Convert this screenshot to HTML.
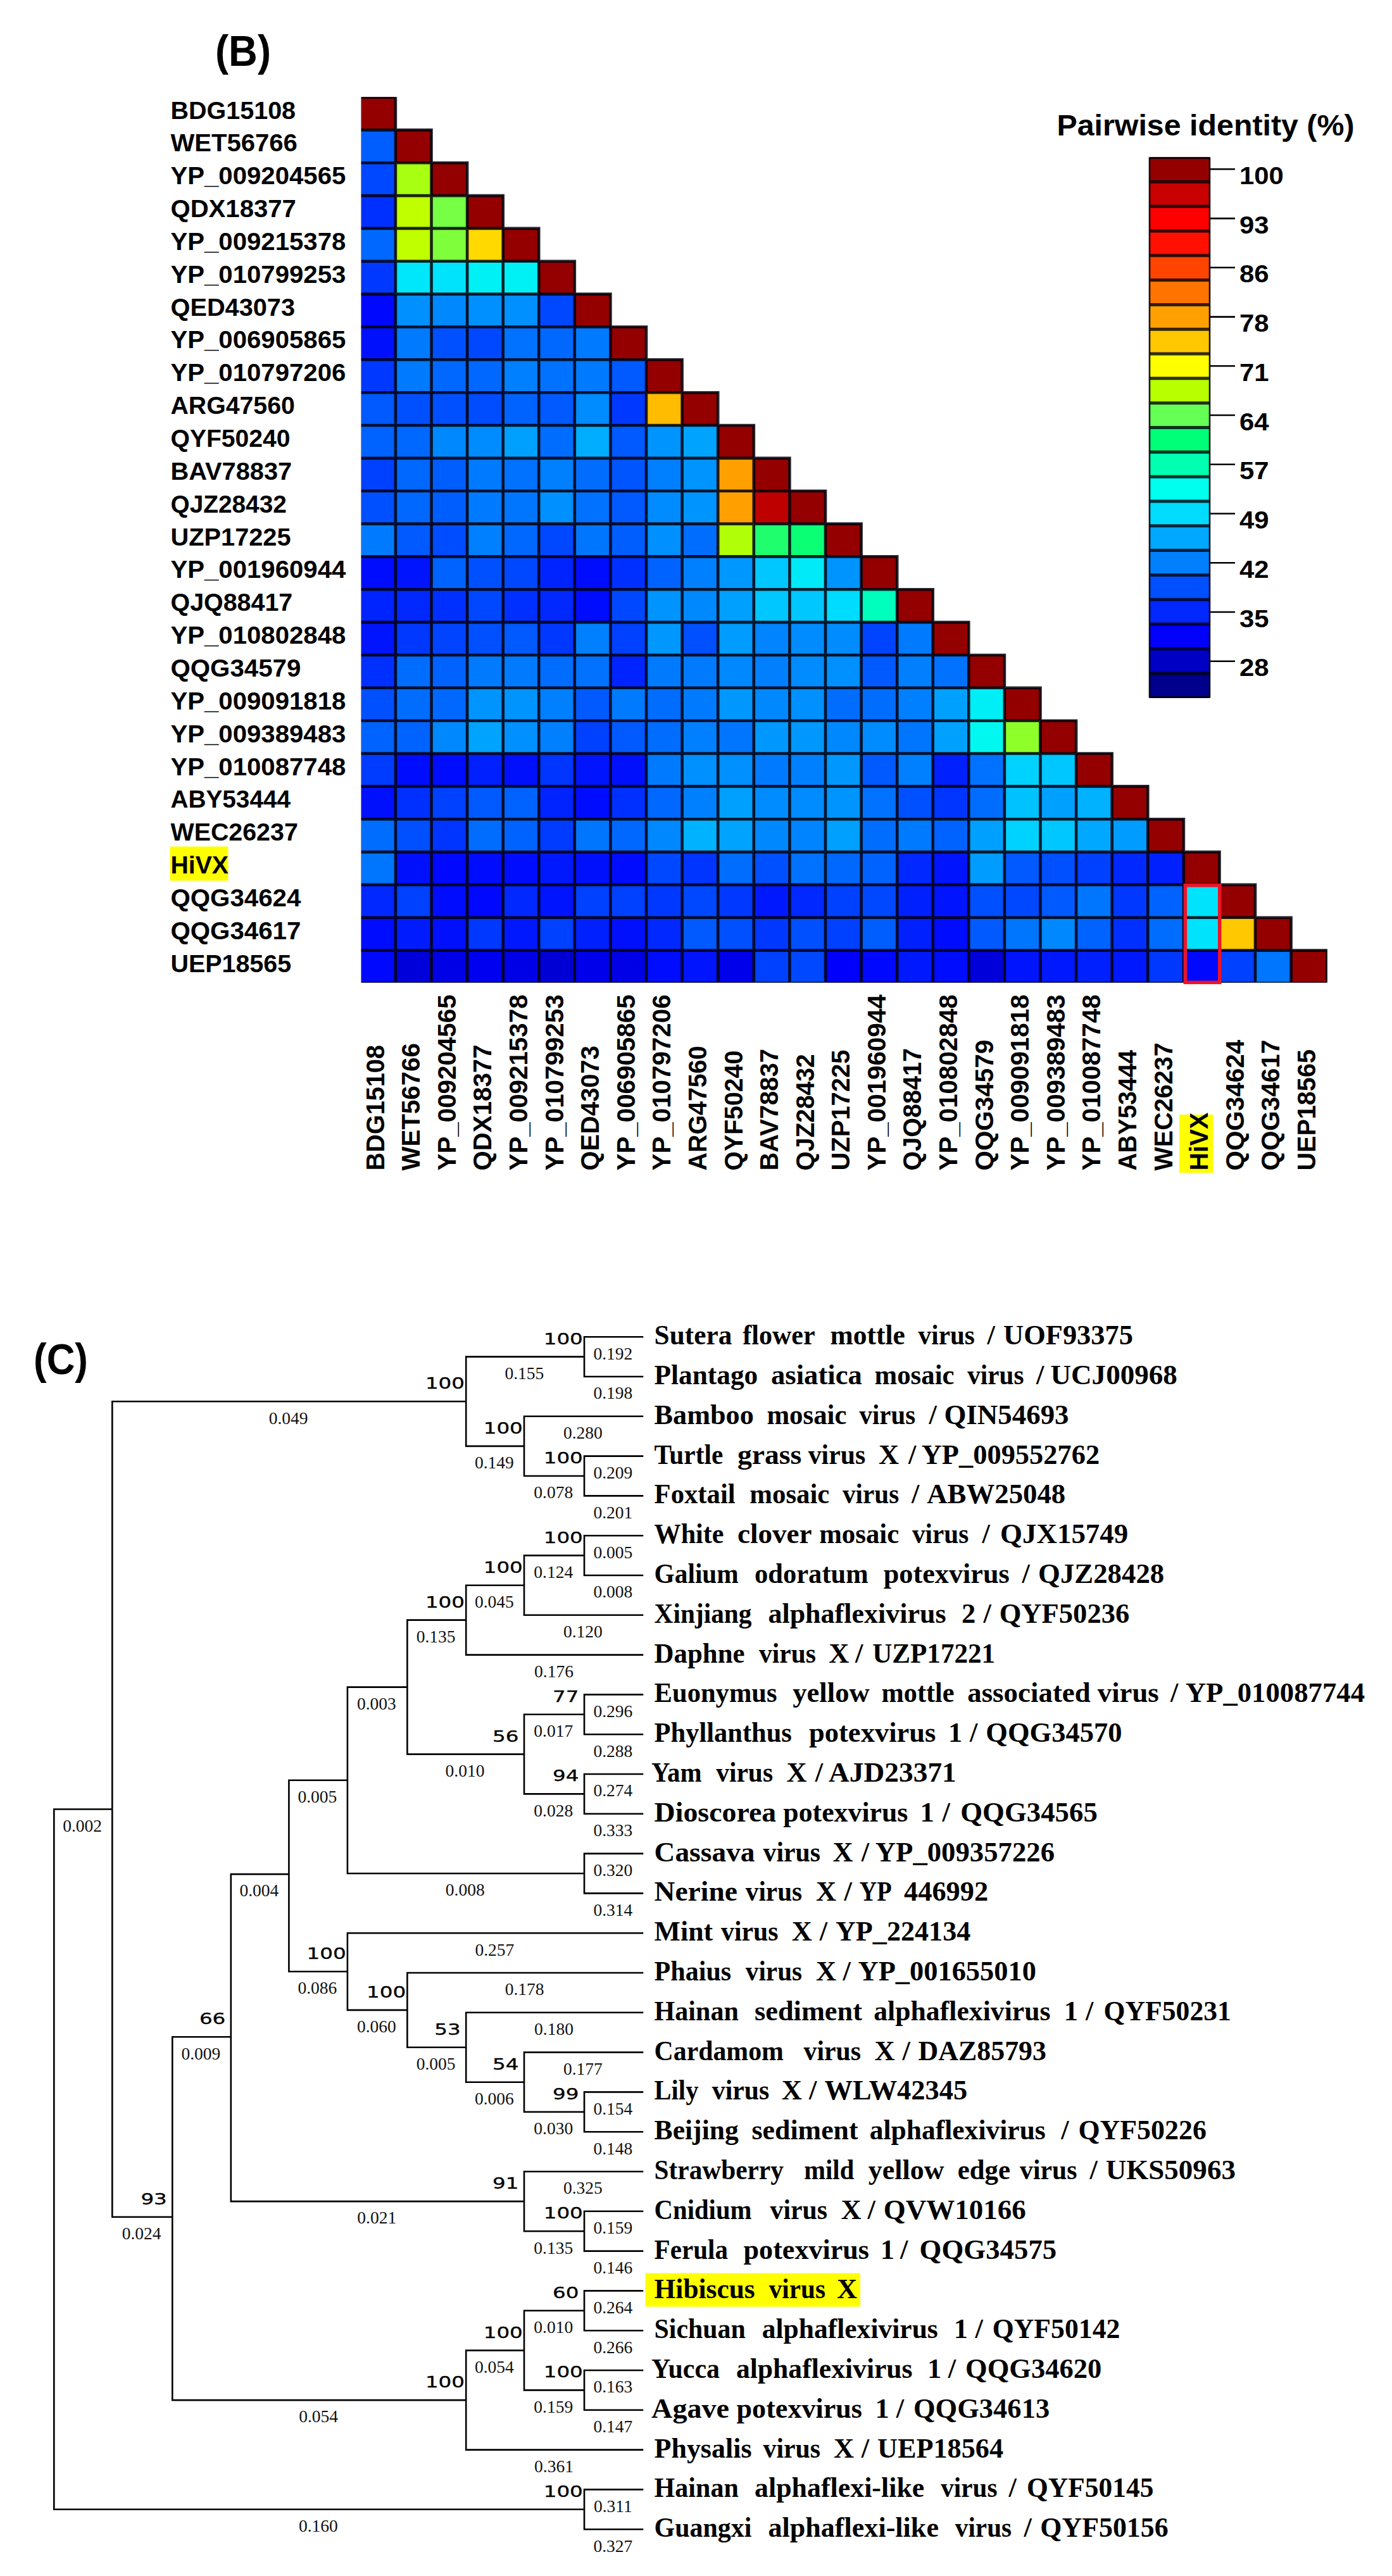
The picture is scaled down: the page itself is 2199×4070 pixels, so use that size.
<!DOCTYPE html>
<html lang="en"><head><meta charset="utf-8"><title>Figure</title>
<style>html,body{margin:0;padding:0;background:#fff}svg{display:block}.s{font-family:"Liberation Sans",sans-serif;font-weight:bold;fill:#000}.t{font-family:"Liberation Serif",serif;font-weight:bold;fill:#000;font-size:44.5px}.b{font-family:"Liberation Serif",serif;fill:#111;font-size:27.5px;text-anchor:middle}.n{font-family:"DejaVu Sans","Liberation Sans",sans-serif;fill:#000;stroke:#000;stroke-width:.35px;font-size:25.5px;text-anchor:end}</style></head><body>
<svg width="2199" height="4070" viewBox="0 0 2199 4070">
<rect width="2199" height="4070" fill="#fff"/>
<clipPath id="gc"><rect x="570.6" y="153.2" width="1526.4" height="1399.3"/></clipPath>
<g clip-path="url(#gc)">
<g shape-rendering="crispEdges">
<rect x="568.0" y="153.2" width="57.19" height="52.45" fill="#940000"/>
<rect x="568.0" y="205.1" width="57.19" height="52.45" fill="#005eff"/>
<rect x="624.6" y="205.1" width="57.19" height="52.45" fill="#940000"/>
<rect x="568.0" y="256.9" width="57.19" height="52.45" fill="#0048ff"/>
<rect x="624.6" y="256.9" width="57.19" height="52.45" fill="#a8ff11"/>
<rect x="681.2" y="256.9" width="57.19" height="52.45" fill="#940000"/>
<rect x="568.0" y="308.8" width="57.19" height="52.45" fill="#0030ff"/>
<rect x="624.6" y="308.8" width="57.19" height="52.45" fill="#bfff00"/>
<rect x="681.2" y="308.8" width="57.19" height="52.45" fill="#76ff44"/>
<rect x="737.8" y="308.8" width="57.19" height="52.45" fill="#940000"/>
<rect x="568.0" y="360.6" width="57.19" height="52.45" fill="#0068ff"/>
<rect x="624.6" y="360.6" width="57.19" height="52.45" fill="#bfff00"/>
<rect x="681.2" y="360.6" width="57.19" height="52.45" fill="#7fff3b"/>
<rect x="737.8" y="360.6" width="57.19" height="52.45" fill="#ffd900"/>
<rect x="794.4" y="360.6" width="57.19" height="52.45" fill="#940000"/>
<rect x="568.0" y="412.5" width="57.19" height="52.45" fill="#0038ff"/>
<rect x="624.6" y="412.5" width="57.19" height="52.45" fill="#00e6fa"/>
<rect x="681.2" y="412.5" width="57.19" height="52.45" fill="#00e3fc"/>
<rect x="737.8" y="412.5" width="57.19" height="52.45" fill="#00f1f5"/>
<rect x="794.4" y="412.5" width="57.19" height="52.45" fill="#00f1f5"/>
<rect x="851.0" y="412.5" width="57.19" height="52.45" fill="#940000"/>
<rect x="568.0" y="464.3" width="57.19" height="52.45" fill="#0008fd"/>
<rect x="624.6" y="464.3" width="57.19" height="52.45" fill="#0090ff"/>
<rect x="681.2" y="464.3" width="57.19" height="52.45" fill="#0088ff"/>
<rect x="737.8" y="464.3" width="57.19" height="52.45" fill="#0090ff"/>
<rect x="794.4" y="464.3" width="57.19" height="52.45" fill="#0090ff"/>
<rect x="851.0" y="464.3" width="57.19" height="52.45" fill="#0048ff"/>
<rect x="907.5" y="464.3" width="57.19" height="52.45" fill="#940000"/>
<rect x="568.0" y="516.2" width="57.19" height="52.45" fill="#0010fd"/>
<rect x="624.6" y="516.2" width="57.19" height="52.45" fill="#007bff"/>
<rect x="681.2" y="516.2" width="57.19" height="52.45" fill="#0050ff"/>
<rect x="737.8" y="516.2" width="57.19" height="52.45" fill="#0048ff"/>
<rect x="794.4" y="516.2" width="57.19" height="52.45" fill="#0072ff"/>
<rect x="851.0" y="516.2" width="57.19" height="52.45" fill="#0068ff"/>
<rect x="907.5" y="516.2" width="57.19" height="52.45" fill="#007bff"/>
<rect x="964.1" y="516.2" width="57.19" height="52.45" fill="#940000"/>
<rect x="568.0" y="568.0" width="57.19" height="52.45" fill="#0038ff"/>
<rect x="624.6" y="568.0" width="57.19" height="52.45" fill="#007bff"/>
<rect x="681.2" y="568.0" width="57.19" height="52.45" fill="#0068ff"/>
<rect x="737.8" y="568.0" width="57.19" height="52.45" fill="#0068ff"/>
<rect x="794.4" y="568.0" width="57.19" height="52.45" fill="#0080ff"/>
<rect x="851.0" y="568.0" width="57.19" height="52.45" fill="#0072ff"/>
<rect x="907.5" y="568.0" width="57.19" height="52.45" fill="#007bff"/>
<rect x="964.1" y="568.0" width="57.19" height="52.45" fill="#005aff"/>
<rect x="1020.7" y="568.0" width="57.19" height="52.45" fill="#940000"/>
<rect x="568.0" y="619.9" width="57.19" height="52.45" fill="#005aff"/>
<rect x="624.6" y="619.9" width="57.19" height="52.45" fill="#0050ff"/>
<rect x="681.2" y="619.9" width="57.19" height="52.45" fill="#0050ff"/>
<rect x="737.8" y="619.9" width="57.19" height="52.45" fill="#004cff"/>
<rect x="794.4" y="619.9" width="57.19" height="52.45" fill="#0063ff"/>
<rect x="851.0" y="619.9" width="57.19" height="52.45" fill="#005aff"/>
<rect x="907.5" y="619.9" width="57.19" height="52.45" fill="#008cff"/>
<rect x="964.1" y="619.9" width="57.19" height="52.45" fill="#0038ff"/>
<rect x="1020.7" y="619.9" width="57.19" height="52.45" fill="#ffbc00"/>
<rect x="1077.3" y="619.9" width="57.19" height="52.45" fill="#940000"/>
<rect x="568.0" y="671.7" width="57.19" height="52.45" fill="#0063ff"/>
<rect x="624.6" y="671.7" width="57.19" height="52.45" fill="#0068ff"/>
<rect x="681.2" y="671.7" width="57.19" height="52.45" fill="#0088ff"/>
<rect x="737.8" y="671.7" width="57.19" height="52.45" fill="#008cff"/>
<rect x="794.4" y="671.7" width="57.19" height="52.45" fill="#00a0ff"/>
<rect x="851.0" y="671.7" width="57.19" height="52.45" fill="#006dff"/>
<rect x="907.5" y="671.7" width="57.19" height="52.45" fill="#00adff"/>
<rect x="964.1" y="671.7" width="57.19" height="52.45" fill="#005aff"/>
<rect x="1020.7" y="671.7" width="57.19" height="52.45" fill="#0094ff"/>
<rect x="1077.3" y="671.7" width="57.19" height="52.45" fill="#00a4ff"/>
<rect x="1133.9" y="671.7" width="57.19" height="52.45" fill="#940000"/>
<rect x="568.0" y="723.6" width="57.19" height="52.45" fill="#0040ff"/>
<rect x="624.6" y="723.6" width="57.19" height="52.45" fill="#0068ff"/>
<rect x="681.2" y="723.6" width="57.19" height="52.45" fill="#005eff"/>
<rect x="737.8" y="723.6" width="57.19" height="52.45" fill="#007bff"/>
<rect x="794.4" y="723.6" width="57.19" height="52.45" fill="#0072ff"/>
<rect x="851.0" y="723.6" width="57.19" height="52.45" fill="#0080ff"/>
<rect x="907.5" y="723.6" width="57.19" height="52.45" fill="#006dff"/>
<rect x="964.1" y="723.6" width="57.19" height="52.45" fill="#0055ff"/>
<rect x="1020.7" y="723.6" width="57.19" height="52.45" fill="#0080ff"/>
<rect x="1077.3" y="723.6" width="57.19" height="52.45" fill="#0094ff"/>
<rect x="1133.9" y="723.6" width="57.19" height="52.45" fill="#ffa000"/>
<rect x="1190.5" y="723.6" width="57.19" height="52.45" fill="#940000"/>
<rect x="568.0" y="775.4" width="57.19" height="52.45" fill="#0050ff"/>
<rect x="624.6" y="775.4" width="57.19" height="52.45" fill="#0068ff"/>
<rect x="681.2" y="775.4" width="57.19" height="52.45" fill="#005eff"/>
<rect x="737.8" y="775.4" width="57.19" height="52.45" fill="#007bff"/>
<rect x="794.4" y="775.4" width="57.19" height="52.45" fill="#0076ff"/>
<rect x="851.0" y="775.4" width="57.19" height="52.45" fill="#0090ff"/>
<rect x="907.5" y="775.4" width="57.19" height="52.45" fill="#0072ff"/>
<rect x="964.1" y="775.4" width="57.19" height="52.45" fill="#005aff"/>
<rect x="1020.7" y="775.4" width="57.19" height="52.45" fill="#008cff"/>
<rect x="1077.3" y="775.4" width="57.19" height="52.45" fill="#0094ff"/>
<rect x="1133.9" y="775.4" width="57.19" height="52.45" fill="#ffa000"/>
<rect x="1190.5" y="775.4" width="57.19" height="52.45" fill="#be0000"/>
<rect x="1247.1" y="775.4" width="57.19" height="52.45" fill="#940000"/>
<rect x="568.0" y="827.3" width="57.19" height="52.45" fill="#007bff"/>
<rect x="624.6" y="827.3" width="57.19" height="52.45" fill="#005aff"/>
<rect x="681.2" y="827.3" width="57.19" height="52.45" fill="#004cff"/>
<rect x="737.8" y="827.3" width="57.19" height="52.45" fill="#0080ff"/>
<rect x="794.4" y="827.3" width="57.19" height="52.45" fill="#0068ff"/>
<rect x="851.0" y="827.3" width="57.19" height="52.45" fill="#0048ff"/>
<rect x="907.5" y="827.3" width="57.19" height="52.45" fill="#0076ff"/>
<rect x="964.1" y="827.3" width="57.19" height="52.45" fill="#005eff"/>
<rect x="1020.7" y="827.3" width="57.19" height="52.45" fill="#0090ff"/>
<rect x="1077.3" y="827.3" width="57.19" height="52.45" fill="#006dff"/>
<rect x="1133.9" y="827.3" width="57.19" height="52.45" fill="#b0ff08"/>
<rect x="1190.5" y="827.3" width="57.19" height="52.45" fill="#1fff6d"/>
<rect x="1247.1" y="827.3" width="57.19" height="52.45" fill="#0aff75"/>
<rect x="1303.7" y="827.3" width="57.19" height="52.45" fill="#940000"/>
<rect x="568.0" y="879.1" width="57.19" height="52.45" fill="#000cfd"/>
<rect x="624.6" y="879.1" width="57.19" height="52.45" fill="#0014fe"/>
<rect x="681.2" y="879.1" width="57.19" height="52.45" fill="#0063ff"/>
<rect x="737.8" y="879.1" width="57.19" height="52.45" fill="#0050ff"/>
<rect x="794.4" y="879.1" width="57.19" height="52.45" fill="#0048ff"/>
<rect x="851.0" y="879.1" width="57.19" height="52.45" fill="#0024ff"/>
<rect x="907.5" y="879.1" width="57.19" height="52.45" fill="#000cfd"/>
<rect x="964.1" y="879.1" width="57.19" height="52.45" fill="#0030ff"/>
<rect x="1020.7" y="879.1" width="57.19" height="52.45" fill="#0063ff"/>
<rect x="1077.3" y="879.1" width="57.19" height="52.45" fill="#0080ff"/>
<rect x="1133.9" y="879.1" width="57.19" height="52.45" fill="#0098ff"/>
<rect x="1190.5" y="879.1" width="57.19" height="52.45" fill="#00c7ff"/>
<rect x="1247.1" y="879.1" width="57.19" height="52.45" fill="#00eaf8"/>
<rect x="1303.7" y="879.1" width="57.19" height="52.45" fill="#0094ff"/>
<rect x="1360.3" y="879.1" width="57.19" height="52.45" fill="#940000"/>
<rect x="568.0" y="931.0" width="57.19" height="52.45" fill="#0024ff"/>
<rect x="624.6" y="931.0" width="57.19" height="52.45" fill="#0028ff"/>
<rect x="681.2" y="931.0" width="57.19" height="52.45" fill="#0030ff"/>
<rect x="737.8" y="931.0" width="57.19" height="52.45" fill="#0048ff"/>
<rect x="794.4" y="931.0" width="57.19" height="52.45" fill="#0030ff"/>
<rect x="851.0" y="931.0" width="57.19" height="52.45" fill="#0028ff"/>
<rect x="907.5" y="931.0" width="57.19" height="52.45" fill="#000cfd"/>
<rect x="964.1" y="931.0" width="57.19" height="52.45" fill="#0048ff"/>
<rect x="1020.7" y="931.0" width="57.19" height="52.45" fill="#0094ff"/>
<rect x="1077.3" y="931.0" width="57.19" height="52.45" fill="#0088ff"/>
<rect x="1133.9" y="931.0" width="57.19" height="52.45" fill="#00a0ff"/>
<rect x="1190.5" y="931.0" width="57.19" height="52.45" fill="#00c7ff"/>
<rect x="1247.1" y="931.0" width="57.19" height="52.45" fill="#00c7ff"/>
<rect x="1303.7" y="931.0" width="57.19" height="52.45" fill="#00dcff"/>
<rect x="1360.3" y="931.0" width="57.19" height="52.45" fill="#00ffbc"/>
<rect x="1416.9" y="931.0" width="57.19" height="52.45" fill="#940000"/>
<rect x="568.0" y="982.8" width="57.19" height="52.45" fill="#0014fe"/>
<rect x="624.6" y="982.8" width="57.19" height="52.45" fill="#0038ff"/>
<rect x="681.2" y="982.8" width="57.19" height="52.45" fill="#0044ff"/>
<rect x="737.8" y="982.8" width="57.19" height="52.45" fill="#0050ff"/>
<rect x="794.4" y="982.8" width="57.19" height="52.45" fill="#005aff"/>
<rect x="851.0" y="982.8" width="57.19" height="52.45" fill="#0038ff"/>
<rect x="907.5" y="982.8" width="57.19" height="52.45" fill="#0080ff"/>
<rect x="964.1" y="982.8" width="57.19" height="52.45" fill="#0040ff"/>
<rect x="1020.7" y="982.8" width="57.19" height="52.45" fill="#0098ff"/>
<rect x="1077.3" y="982.8" width="57.19" height="52.45" fill="#0050ff"/>
<rect x="1133.9" y="982.8" width="57.19" height="52.45" fill="#009cff"/>
<rect x="1190.5" y="982.8" width="57.19" height="52.45" fill="#0084ff"/>
<rect x="1247.1" y="982.8" width="57.19" height="52.45" fill="#008cff"/>
<rect x="1303.7" y="982.8" width="57.19" height="52.45" fill="#008cff"/>
<rect x="1360.3" y="982.8" width="57.19" height="52.45" fill="#0044ff"/>
<rect x="1416.9" y="982.8" width="57.19" height="52.45" fill="#007bff"/>
<rect x="1473.4" y="982.8" width="57.19" height="52.45" fill="#940000"/>
<rect x="568.0" y="1034.7" width="57.19" height="52.45" fill="#0030ff"/>
<rect x="624.6" y="1034.7" width="57.19" height="52.45" fill="#006dff"/>
<rect x="681.2" y="1034.7" width="57.19" height="52.45" fill="#0063ff"/>
<rect x="737.8" y="1034.7" width="57.19" height="52.45" fill="#007bff"/>
<rect x="794.4" y="1034.7" width="57.19" height="52.45" fill="#007bff"/>
<rect x="851.0" y="1034.7" width="57.19" height="52.45" fill="#006dff"/>
<rect x="907.5" y="1034.7" width="57.19" height="52.45" fill="#0072ff"/>
<rect x="964.1" y="1034.7" width="57.19" height="52.45" fill="#0024ff"/>
<rect x="1020.7" y="1034.7" width="57.19" height="52.45" fill="#007bff"/>
<rect x="1077.3" y="1034.7" width="57.19" height="52.45" fill="#007bff"/>
<rect x="1133.9" y="1034.7" width="57.19" height="52.45" fill="#0088ff"/>
<rect x="1190.5" y="1034.7" width="57.19" height="52.45" fill="#0080ff"/>
<rect x="1247.1" y="1034.7" width="57.19" height="52.45" fill="#008cff"/>
<rect x="1303.7" y="1034.7" width="57.19" height="52.45" fill="#0090ff"/>
<rect x="1360.3" y="1034.7" width="57.19" height="52.45" fill="#005aff"/>
<rect x="1416.9" y="1034.7" width="57.19" height="52.45" fill="#0080ff"/>
<rect x="1473.4" y="1034.7" width="57.19" height="52.45" fill="#0072ff"/>
<rect x="1530.0" y="1034.7" width="57.19" height="52.45" fill="#940000"/>
<rect x="568.0" y="1086.5" width="57.19" height="52.45" fill="#0050ff"/>
<rect x="624.6" y="1086.5" width="57.19" height="52.45" fill="#006dff"/>
<rect x="681.2" y="1086.5" width="57.19" height="52.45" fill="#0068ff"/>
<rect x="737.8" y="1086.5" width="57.19" height="52.45" fill="#0094ff"/>
<rect x="794.4" y="1086.5" width="57.19" height="52.45" fill="#0094ff"/>
<rect x="851.0" y="1086.5" width="57.19" height="52.45" fill="#0080ff"/>
<rect x="907.5" y="1086.5" width="57.19" height="52.45" fill="#005aff"/>
<rect x="964.1" y="1086.5" width="57.19" height="52.45" fill="#007bff"/>
<rect x="1020.7" y="1086.5" width="57.19" height="52.45" fill="#006dff"/>
<rect x="1077.3" y="1086.5" width="57.19" height="52.45" fill="#007bff"/>
<rect x="1133.9" y="1086.5" width="57.19" height="52.45" fill="#0098ff"/>
<rect x="1190.5" y="1086.5" width="57.19" height="52.45" fill="#0088ff"/>
<rect x="1247.1" y="1086.5" width="57.19" height="52.45" fill="#0090ff"/>
<rect x="1303.7" y="1086.5" width="57.19" height="52.45" fill="#006dff"/>
<rect x="1360.3" y="1086.5" width="57.19" height="52.45" fill="#006dff"/>
<rect x="1416.9" y="1086.5" width="57.19" height="52.45" fill="#0080ff"/>
<rect x="1473.4" y="1086.5" width="57.19" height="52.45" fill="#00a0ff"/>
<rect x="1530.0" y="1086.5" width="57.19" height="52.45" fill="#00eef6"/>
<rect x="1586.6" y="1086.5" width="57.19" height="52.45" fill="#940000"/>
<rect x="568.0" y="1138.4" width="57.19" height="52.45" fill="#0063ff"/>
<rect x="624.6" y="1138.4" width="57.19" height="52.45" fill="#0063ff"/>
<rect x="681.2" y="1138.4" width="57.19" height="52.45" fill="#0088ff"/>
<rect x="737.8" y="1138.4" width="57.19" height="52.45" fill="#00a4ff"/>
<rect x="794.4" y="1138.4" width="57.19" height="52.45" fill="#0090ff"/>
<rect x="851.0" y="1138.4" width="57.19" height="52.45" fill="#0080ff"/>
<rect x="907.5" y="1138.4" width="57.19" height="52.45" fill="#0040ff"/>
<rect x="964.1" y="1138.4" width="57.19" height="52.45" fill="#005aff"/>
<rect x="1020.7" y="1138.4" width="57.19" height="52.45" fill="#006dff"/>
<rect x="1077.3" y="1138.4" width="57.19" height="52.45" fill="#0080ff"/>
<rect x="1133.9" y="1138.4" width="57.19" height="52.45" fill="#0076ff"/>
<rect x="1190.5" y="1138.4" width="57.19" height="52.45" fill="#0098ff"/>
<rect x="1247.1" y="1138.4" width="57.19" height="52.45" fill="#0098ff"/>
<rect x="1303.7" y="1138.4" width="57.19" height="52.45" fill="#0088ff"/>
<rect x="1360.3" y="1138.4" width="57.19" height="52.45" fill="#008cff"/>
<rect x="1416.9" y="1138.4" width="57.19" height="52.45" fill="#0076ff"/>
<rect x="1473.4" y="1138.4" width="57.19" height="52.45" fill="#00a0ff"/>
<rect x="1530.0" y="1138.4" width="57.19" height="52.45" fill="#00f8f1"/>
<rect x="1586.6" y="1138.4" width="57.19" height="52.45" fill="#8fff2a"/>
<rect x="1643.2" y="1138.4" width="57.19" height="52.45" fill="#940000"/>
<rect x="568.0" y="1190.2" width="57.19" height="52.45" fill="#003cff"/>
<rect x="624.6" y="1190.2" width="57.19" height="52.45" fill="#000cfd"/>
<rect x="681.2" y="1190.2" width="57.19" height="52.45" fill="#000cfd"/>
<rect x="737.8" y="1190.2" width="57.19" height="52.45" fill="#0020fe"/>
<rect x="794.4" y="1190.2" width="57.19" height="52.45" fill="#0010fd"/>
<rect x="851.0" y="1190.2" width="57.19" height="52.45" fill="#0034ff"/>
<rect x="907.5" y="1190.2" width="57.19" height="52.45" fill="#0014fe"/>
<rect x="964.1" y="1190.2" width="57.19" height="52.45" fill="#0010fd"/>
<rect x="1020.7" y="1190.2" width="57.19" height="52.45" fill="#007bff"/>
<rect x="1077.3" y="1190.2" width="57.19" height="52.45" fill="#0090ff"/>
<rect x="1133.9" y="1190.2" width="57.19" height="52.45" fill="#0090ff"/>
<rect x="1190.5" y="1190.2" width="57.19" height="52.45" fill="#007bff"/>
<rect x="1247.1" y="1190.2" width="57.19" height="52.45" fill="#0080ff"/>
<rect x="1303.7" y="1190.2" width="57.19" height="52.45" fill="#0098ff"/>
<rect x="1360.3" y="1190.2" width="57.19" height="52.45" fill="#005aff"/>
<rect x="1416.9" y="1190.2" width="57.19" height="52.45" fill="#0080ff"/>
<rect x="1473.4" y="1190.2" width="57.19" height="52.45" fill="#0020fe"/>
<rect x="1530.0" y="1190.2" width="57.19" height="52.45" fill="#0072ff"/>
<rect x="1586.6" y="1190.2" width="57.19" height="52.45" fill="#00d2ff"/>
<rect x="1643.2" y="1190.2" width="57.19" height="52.45" fill="#00c7ff"/>
<rect x="1699.8" y="1190.2" width="57.19" height="52.45" fill="#940000"/>
<rect x="568.0" y="1242.1" width="57.19" height="52.45" fill="#0010fd"/>
<rect x="624.6" y="1242.1" width="57.19" height="52.45" fill="#0030ff"/>
<rect x="681.2" y="1242.1" width="57.19" height="52.45" fill="#0040ff"/>
<rect x="737.8" y="1242.1" width="57.19" height="52.45" fill="#005aff"/>
<rect x="794.4" y="1242.1" width="57.19" height="52.45" fill="#0063ff"/>
<rect x="851.0" y="1242.1" width="57.19" height="52.45" fill="#0024ff"/>
<rect x="907.5" y="1242.1" width="57.19" height="52.45" fill="#000cfd"/>
<rect x="964.1" y="1242.1" width="57.19" height="52.45" fill="#0030ff"/>
<rect x="1020.7" y="1242.1" width="57.19" height="52.45" fill="#0068ff"/>
<rect x="1077.3" y="1242.1" width="57.19" height="52.45" fill="#0080ff"/>
<rect x="1133.9" y="1242.1" width="57.19" height="52.45" fill="#00a0ff"/>
<rect x="1190.5" y="1242.1" width="57.19" height="52.45" fill="#008cff"/>
<rect x="1247.1" y="1242.1" width="57.19" height="52.45" fill="#008cff"/>
<rect x="1303.7" y="1242.1" width="57.19" height="52.45" fill="#0094ff"/>
<rect x="1360.3" y="1242.1" width="57.19" height="52.45" fill="#0072ff"/>
<rect x="1416.9" y="1242.1" width="57.19" height="52.45" fill="#0050ff"/>
<rect x="1473.4" y="1242.1" width="57.19" height="52.45" fill="#0034ff"/>
<rect x="1530.0" y="1242.1" width="57.19" height="52.45" fill="#006dff"/>
<rect x="1586.6" y="1242.1" width="57.19" height="52.45" fill="#00c2ff"/>
<rect x="1643.2" y="1242.1" width="57.19" height="52.45" fill="#00a0ff"/>
<rect x="1699.8" y="1242.1" width="57.19" height="52.45" fill="#00b2ff"/>
<rect x="1756.4" y="1242.1" width="57.19" height="52.45" fill="#940000"/>
<rect x="568.0" y="1293.9" width="57.19" height="52.45" fill="#006dff"/>
<rect x="624.6" y="1293.9" width="57.19" height="52.45" fill="#0050ff"/>
<rect x="681.2" y="1293.9" width="57.19" height="52.45" fill="#0034ff"/>
<rect x="737.8" y="1293.9" width="57.19" height="52.45" fill="#006dff"/>
<rect x="794.4" y="1293.9" width="57.19" height="52.45" fill="#0063ff"/>
<rect x="851.0" y="1293.9" width="57.19" height="52.45" fill="#003cff"/>
<rect x="907.5" y="1293.9" width="57.19" height="52.45" fill="#0076ff"/>
<rect x="964.1" y="1293.9" width="57.19" height="52.45" fill="#0068ff"/>
<rect x="1020.7" y="1293.9" width="57.19" height="52.45" fill="#0088ff"/>
<rect x="1077.3" y="1293.9" width="57.19" height="52.45" fill="#00b2ff"/>
<rect x="1133.9" y="1293.9" width="57.19" height="52.45" fill="#00a4ff"/>
<rect x="1190.5" y="1293.9" width="57.19" height="52.45" fill="#0088ff"/>
<rect x="1247.1" y="1293.9" width="57.19" height="52.45" fill="#0084ff"/>
<rect x="1303.7" y="1293.9" width="57.19" height="52.45" fill="#00a0ff"/>
<rect x="1360.3" y="1293.9" width="57.19" height="52.45" fill="#006dff"/>
<rect x="1416.9" y="1293.9" width="57.19" height="52.45" fill="#007bff"/>
<rect x="1473.4" y="1293.9" width="57.19" height="52.45" fill="#0063ff"/>
<rect x="1530.0" y="1293.9" width="57.19" height="52.45" fill="#00a0ff"/>
<rect x="1586.6" y="1293.9" width="57.19" height="52.45" fill="#00d2ff"/>
<rect x="1643.2" y="1293.9" width="57.19" height="52.45" fill="#00c7ff"/>
<rect x="1699.8" y="1293.9" width="57.19" height="52.45" fill="#00a8ff"/>
<rect x="1756.4" y="1293.9" width="57.19" height="52.45" fill="#009cff"/>
<rect x="1813.0" y="1293.9" width="57.19" height="52.45" fill="#940000"/>
<rect x="568.0" y="1345.8" width="57.19" height="52.45" fill="#0076ff"/>
<rect x="624.6" y="1345.8" width="57.19" height="52.45" fill="#0010fd"/>
<rect x="681.2" y="1345.8" width="57.19" height="52.45" fill="#0008fd"/>
<rect x="737.8" y="1345.8" width="57.19" height="52.45" fill="#000cfd"/>
<rect x="794.4" y="1345.8" width="57.19" height="52.45" fill="#000cfd"/>
<rect x="851.0" y="1345.8" width="57.19" height="52.45" fill="#0018fe"/>
<rect x="907.5" y="1345.8" width="57.19" height="52.45" fill="#0010fd"/>
<rect x="964.1" y="1345.8" width="57.19" height="52.45" fill="#000cfd"/>
<rect x="1020.7" y="1345.8" width="57.19" height="52.45" fill="#0048ff"/>
<rect x="1077.3" y="1345.8" width="57.19" height="52.45" fill="#0034ff"/>
<rect x="1133.9" y="1345.8" width="57.19" height="52.45" fill="#006dff"/>
<rect x="1190.5" y="1345.8" width="57.19" height="52.45" fill="#0050ff"/>
<rect x="1247.1" y="1345.8" width="57.19" height="52.45" fill="#0072ff"/>
<rect x="1303.7" y="1345.8" width="57.19" height="52.45" fill="#0068ff"/>
<rect x="1360.3" y="1345.8" width="57.19" height="52.45" fill="#0063ff"/>
<rect x="1416.9" y="1345.8" width="57.19" height="52.45" fill="#0028ff"/>
<rect x="1473.4" y="1345.8" width="57.19" height="52.45" fill="#0014fe"/>
<rect x="1530.0" y="1345.8" width="57.19" height="52.45" fill="#009cff"/>
<rect x="1586.6" y="1345.8" width="57.19" height="52.45" fill="#005aff"/>
<rect x="1643.2" y="1345.8" width="57.19" height="52.45" fill="#0050ff"/>
<rect x="1699.8" y="1345.8" width="57.19" height="52.45" fill="#0040ff"/>
<rect x="1756.4" y="1345.8" width="57.19" height="52.45" fill="#0028ff"/>
<rect x="1813.0" y="1345.8" width="57.19" height="52.45" fill="#0020fe"/>
<rect x="1869.6" y="1345.8" width="57.19" height="52.45" fill="#940000"/>
<rect x="568.0" y="1397.6" width="57.19" height="52.45" fill="#0028ff"/>
<rect x="624.6" y="1397.6" width="57.19" height="52.45" fill="#0040ff"/>
<rect x="681.2" y="1397.6" width="57.19" height="52.45" fill="#000cfd"/>
<rect x="737.8" y="1397.6" width="57.19" height="52.45" fill="#0008fd"/>
<rect x="794.4" y="1397.6" width="57.19" height="52.45" fill="#0028ff"/>
<rect x="851.0" y="1397.6" width="57.19" height="52.45" fill="#0014fe"/>
<rect x="907.5" y="1397.6" width="57.19" height="52.45" fill="#0040ff"/>
<rect x="964.1" y="1397.6" width="57.19" height="52.45" fill="#0040ff"/>
<rect x="1020.7" y="1397.6" width="57.19" height="52.45" fill="#0038ff"/>
<rect x="1077.3" y="1397.6" width="57.19" height="52.45" fill="#0048ff"/>
<rect x="1133.9" y="1397.6" width="57.19" height="52.45" fill="#0038ff"/>
<rect x="1190.5" y="1397.6" width="57.19" height="52.45" fill="#0018fe"/>
<rect x="1247.1" y="1397.6" width="57.19" height="52.45" fill="#0028ff"/>
<rect x="1303.7" y="1397.6" width="57.19" height="52.45" fill="#0040ff"/>
<rect x="1360.3" y="1397.6" width="57.19" height="52.45" fill="#0048ff"/>
<rect x="1416.9" y="1397.6" width="57.19" height="52.45" fill="#0020fe"/>
<rect x="1473.4" y="1397.6" width="57.19" height="52.45" fill="#0014fe"/>
<rect x="1530.0" y="1397.6" width="57.19" height="52.45" fill="#0050ff"/>
<rect x="1586.6" y="1397.6" width="57.19" height="52.45" fill="#0048ff"/>
<rect x="1643.2" y="1397.6" width="57.19" height="52.45" fill="#005aff"/>
<rect x="1699.8" y="1397.6" width="57.19" height="52.45" fill="#0076ff"/>
<rect x="1756.4" y="1397.6" width="57.19" height="52.45" fill="#0038ff"/>
<rect x="1813.0" y="1397.6" width="57.19" height="52.45" fill="#0063ff"/>
<rect x="1869.6" y="1397.6" width="57.19" height="52.45" fill="#00e3fc"/>
<rect x="1926.2" y="1397.6" width="57.19" height="52.45" fill="#940000"/>
<rect x="568.0" y="1449.5" width="57.19" height="52.45" fill="#000cfd"/>
<rect x="624.6" y="1449.5" width="57.19" height="52.45" fill="#001cfe"/>
<rect x="681.2" y="1449.5" width="57.19" height="52.45" fill="#0010fd"/>
<rect x="737.8" y="1449.5" width="57.19" height="52.45" fill="#0038ff"/>
<rect x="794.4" y="1449.5" width="57.19" height="52.45" fill="#0018fe"/>
<rect x="851.0" y="1449.5" width="57.19" height="52.45" fill="#0040ff"/>
<rect x="907.5" y="1449.5" width="57.19" height="52.45" fill="#0020fe"/>
<rect x="964.1" y="1449.5" width="57.19" height="52.45" fill="#0010fd"/>
<rect x="1020.7" y="1449.5" width="57.19" height="52.45" fill="#0028ff"/>
<rect x="1077.3" y="1449.5" width="57.19" height="52.45" fill="#005aff"/>
<rect x="1133.9" y="1449.5" width="57.19" height="52.45" fill="#0050ff"/>
<rect x="1190.5" y="1449.5" width="57.19" height="52.45" fill="#0038ff"/>
<rect x="1247.1" y="1449.5" width="57.19" height="52.45" fill="#0050ff"/>
<rect x="1303.7" y="1449.5" width="57.19" height="52.45" fill="#0040ff"/>
<rect x="1360.3" y="1449.5" width="57.19" height="52.45" fill="#005eff"/>
<rect x="1416.9" y="1449.5" width="57.19" height="52.45" fill="#0020fe"/>
<rect x="1473.4" y="1449.5" width="57.19" height="52.45" fill="#000cfd"/>
<rect x="1530.0" y="1449.5" width="57.19" height="52.45" fill="#005aff"/>
<rect x="1586.6" y="1449.5" width="57.19" height="52.45" fill="#0076ff"/>
<rect x="1643.2" y="1449.5" width="57.19" height="52.45" fill="#0088ff"/>
<rect x="1699.8" y="1449.5" width="57.19" height="52.45" fill="#0063ff"/>
<rect x="1756.4" y="1449.5" width="57.19" height="52.45" fill="#0030ff"/>
<rect x="1813.0" y="1449.5" width="57.19" height="52.45" fill="#006dff"/>
<rect x="1869.6" y="1449.5" width="57.19" height="52.45" fill="#00e3fc"/>
<rect x="1926.2" y="1449.5" width="57.19" height="52.45" fill="#ffc800"/>
<rect x="1982.8" y="1449.5" width="57.19" height="52.45" fill="#940000"/>
<rect x="568.0" y="1501.3" width="57.19" height="52.45" fill="#0008fd"/>
<rect x="624.6" y="1501.3" width="57.19" height="52.45" fill="#0000da"/>
<rect x="681.2" y="1501.3" width="57.19" height="52.45" fill="#0000e6"/>
<rect x="737.8" y="1501.3" width="57.19" height="52.45" fill="#0000f1"/>
<rect x="794.4" y="1501.3" width="57.19" height="52.45" fill="#0000e6"/>
<rect x="851.0" y="1501.3" width="57.19" height="52.45" fill="#0000d5"/>
<rect x="907.5" y="1501.3" width="57.19" height="52.45" fill="#0000eb"/>
<rect x="964.1" y="1501.3" width="57.19" height="52.45" fill="#0000e6"/>
<rect x="1020.7" y="1501.3" width="57.19" height="52.45" fill="#000cfd"/>
<rect x="1077.3" y="1501.3" width="57.19" height="52.45" fill="#0014fe"/>
<rect x="1133.9" y="1501.3" width="57.19" height="52.45" fill="#0000eb"/>
<rect x="1190.5" y="1501.3" width="57.19" height="52.45" fill="#0040ff"/>
<rect x="1247.1" y="1501.3" width="57.19" height="52.45" fill="#0048ff"/>
<rect x="1303.7" y="1501.3" width="57.19" height="52.45" fill="#0000fc"/>
<rect x="1360.3" y="1501.3" width="57.19" height="52.45" fill="#0008fd"/>
<rect x="1416.9" y="1501.3" width="57.19" height="52.45" fill="#0018fe"/>
<rect x="1473.4" y="1501.3" width="57.19" height="52.45" fill="#000cfd"/>
<rect x="1530.0" y="1501.3" width="57.19" height="52.45" fill="#0000da"/>
<rect x="1586.6" y="1501.3" width="57.19" height="52.45" fill="#0014fe"/>
<rect x="1643.2" y="1501.3" width="57.19" height="52.45" fill="#0018fe"/>
<rect x="1699.8" y="1501.3" width="57.19" height="52.45" fill="#0020fe"/>
<rect x="1756.4" y="1501.3" width="57.19" height="52.45" fill="#0018fe"/>
<rect x="1813.0" y="1501.3" width="57.19" height="52.45" fill="#0038ff"/>
<rect x="1869.6" y="1501.3" width="57.19" height="52.45" fill="#0008fd"/>
<rect x="1926.2" y="1501.3" width="57.19" height="52.45" fill="#0040ff"/>
<rect x="1982.8" y="1501.3" width="57.19" height="52.45" fill="#0076ff"/>
<rect x="2039.3" y="1501.3" width="57.19" height="52.45" fill="#940000"/>
</g>
<path d="M568.3 153.6H624.9M624.9 153.6V1553.4M568.3 205.4H681.5M681.5 205.4V1553.4M568.3 257.2H738.1M738.1 257.2V1553.4M568.3 309.1H794.7M794.7 309.1V1553.4M568.3 360.9H851.2M851.2 360.9V1553.4M568.3 412.8H907.8M907.8 412.8V1553.4M568.3 464.6H964.4M964.4 464.6V1553.4M568.3 516.5H1021.0M1021.0 516.5V1553.4M568.3 568.3H1077.6M1077.6 568.3V1553.4M568.3 620.2H1134.2M1134.2 620.2V1553.4M568.3 672.0H1190.8M1190.8 672.0V1553.4M568.3 723.9H1247.4M1247.4 723.9V1553.4M568.3 775.7H1304.0M1304.0 775.7V1553.4M568.3 827.6H1360.6M1360.6 827.6V1553.4M568.3 879.4H1417.2M1417.2 879.4V1553.4M568.3 931.3H1473.7M1473.7 931.3V1553.4M568.3 983.1H1530.3M1530.3 983.1V1553.4M568.3 1035.0H1586.9M1586.9 1035.0V1553.4M568.3 1086.8H1643.5M1643.5 1086.8V1553.4M568.3 1138.7H1700.1M1700.1 1138.7V1553.4M568.3 1190.5H1756.7M1756.7 1190.5V1553.4M568.3 1242.4H1813.3M1813.3 1242.4V1553.4M568.3 1294.2H1869.9M1869.9 1294.2V1553.4M568.3 1346.1H1926.5M1926.5 1346.1V1553.4M568.3 1397.9H1983.0M1983.0 1397.9V1553.4M568.3 1449.8H2039.6M2039.6 1449.8V1553.4M568.3 1501.6H2096.2M2096.2 1501.6V1553.4M568.3 1553.4H2096.2M568.3 153.6V1553.4" fill="none" stroke="#00000a" stroke-opacity=".86" stroke-width="4.6" stroke-linecap="square"/>
</g>
<rect x="1872.4" y="1398.8" width="54.3" height="153.4" fill="none" stroke="#ec1428" stroke-width="5.5"/>
<rect x="268.5" y="1337.5" width="92" height="54" fill="#ffff00"/>
<g class="s" font-size="38.8">
<text x="269.5" y="187.5" textLength="197.6" lengthAdjust="spacingAndGlyphs">BDG15108</text>
<text x="269.5" y="239.3" textLength="200.4" lengthAdjust="spacingAndGlyphs">WET56766</text>
<text x="269.5" y="291.2" textLength="276.8" lengthAdjust="spacingAndGlyphs">YP_009204565</text>
<text x="269.5" y="343.0" textLength="198.3" lengthAdjust="spacingAndGlyphs">QDX18377</text>
<text x="269.5" y="394.9" textLength="276.8" lengthAdjust="spacingAndGlyphs">YP_009215378</text>
<text x="269.5" y="446.7" textLength="276.8" lengthAdjust="spacingAndGlyphs">YP_010799253</text>
<text x="269.5" y="498.6" textLength="196.5" lengthAdjust="spacingAndGlyphs">QED43073</text>
<text x="269.5" y="550.4" textLength="276.8" lengthAdjust="spacingAndGlyphs">YP_006905865</text>
<text x="269.5" y="602.3" textLength="276.8" lengthAdjust="spacingAndGlyphs">YP_010797206</text>
<text x="269.5" y="654.1" textLength="196.3" lengthAdjust="spacingAndGlyphs">ARG47560</text>
<text x="269.5" y="706.0" textLength="188.9" lengthAdjust="spacingAndGlyphs">QYF50240</text>
<text x="269.5" y="757.8" textLength="191.7" lengthAdjust="spacingAndGlyphs">BAV78837</text>
<text x="269.5" y="809.7" textLength="183.3" lengthAdjust="spacingAndGlyphs">QJZ28432</text>
<text x="269.5" y="861.5" textLength="190.1" lengthAdjust="spacingAndGlyphs">UZP17225</text>
<text x="269.5" y="913.4" textLength="276.8" lengthAdjust="spacingAndGlyphs">YP_001960944</text>
<text x="269.5" y="965.2" textLength="192.7" lengthAdjust="spacingAndGlyphs">QJQ88417</text>
<text x="269.5" y="1017.1" textLength="276.8" lengthAdjust="spacingAndGlyphs">YP_010802848</text>
<text x="269.5" y="1068.9" textLength="205.8" lengthAdjust="spacingAndGlyphs">QQG34579</text>
<text x="269.5" y="1120.8" textLength="276.8" lengthAdjust="spacingAndGlyphs">YP_009091818</text>
<text x="269.5" y="1172.6" textLength="276.8" lengthAdjust="spacingAndGlyphs">YP_009389483</text>
<text x="269.5" y="1224.5" textLength="276.8" lengthAdjust="spacingAndGlyphs">YP_010087748</text>
<text x="269.5" y="1276.3" textLength="189.6" lengthAdjust="spacingAndGlyphs">ABY53444</text>
<text x="269.5" y="1328.2" textLength="201.3" lengthAdjust="spacingAndGlyphs">WEC26237</text>
<text x="269.5" y="1380.0" textLength="91.4" lengthAdjust="spacingAndGlyphs">HiVX</text>
<text x="269.5" y="1431.9" textLength="205.8" lengthAdjust="spacingAndGlyphs">QQG34624</text>
<text x="269.5" y="1483.7" textLength="205.8" lengthAdjust="spacingAndGlyphs">QQG34617</text>
<text x="269.5" y="1535.5" textLength="190.6" lengthAdjust="spacingAndGlyphs">UEP18565</text>
</g>
<rect x="1863" y="1761" width="53.5" height="92" fill="#ffff00"/>
<g class="s" font-size="40.0">
<text transform="translate(606.6 1849.5) rotate(-90)" textLength="198.5" lengthAdjust="spacingAndGlyphs">BDG15108</text>
<text transform="translate(663.2 1849.5) rotate(-90)" textLength="201.3" lengthAdjust="spacingAndGlyphs">WET56766</text>
<text transform="translate(719.8 1849.5) rotate(-90)" textLength="278.1" lengthAdjust="spacingAndGlyphs">YP_009204565</text>
<text transform="translate(776.4 1849.5) rotate(-90)" textLength="199.1" lengthAdjust="spacingAndGlyphs">QDX18377</text>
<text transform="translate(833.0 1849.5) rotate(-90)" textLength="278.1" lengthAdjust="spacingAndGlyphs">YP_009215378</text>
<text transform="translate(889.5 1849.5) rotate(-90)" textLength="278.1" lengthAdjust="spacingAndGlyphs">YP_010799253</text>
<text transform="translate(946.1 1849.5) rotate(-90)" textLength="197.4" lengthAdjust="spacingAndGlyphs">QED43073</text>
<text transform="translate(1002.7 1849.5) rotate(-90)" textLength="278.1" lengthAdjust="spacingAndGlyphs">YP_006905865</text>
<text transform="translate(1059.3 1849.5) rotate(-90)" textLength="278.1" lengthAdjust="spacingAndGlyphs">YP_010797206</text>
<text transform="translate(1115.9 1849.5) rotate(-90)" textLength="197.1" lengthAdjust="spacingAndGlyphs">ARG47560</text>
<text transform="translate(1172.5 1849.5) rotate(-90)" textLength="189.7" lengthAdjust="spacingAndGlyphs">QYF50240</text>
<text transform="translate(1229.1 1849.5) rotate(-90)" textLength="192.5" lengthAdjust="spacingAndGlyphs">BAV78837</text>
<text transform="translate(1285.7 1849.5) rotate(-90)" textLength="184.1" lengthAdjust="spacingAndGlyphs">QJZ28432</text>
<text transform="translate(1342.3 1849.5) rotate(-90)" textLength="191.0" lengthAdjust="spacingAndGlyphs">UZP17225</text>
<text transform="translate(1398.9 1849.5) rotate(-90)" textLength="278.1" lengthAdjust="spacingAndGlyphs">YP_001960944</text>
<text transform="translate(1455.4 1849.5) rotate(-90)" textLength="193.5" lengthAdjust="spacingAndGlyphs">QJQ88417</text>
<text transform="translate(1512.0 1849.5) rotate(-90)" textLength="278.1" lengthAdjust="spacingAndGlyphs">YP_010802848</text>
<text transform="translate(1568.6 1849.5) rotate(-90)" textLength="206.7" lengthAdjust="spacingAndGlyphs">QQG34579</text>
<text transform="translate(1625.2 1849.5) rotate(-90)" textLength="278.1" lengthAdjust="spacingAndGlyphs">YP_009091818</text>
<text transform="translate(1681.8 1849.5) rotate(-90)" textLength="278.1" lengthAdjust="spacingAndGlyphs">YP_009389483</text>
<text transform="translate(1738.4 1849.5) rotate(-90)" textLength="278.1" lengthAdjust="spacingAndGlyphs">YP_010087748</text>
<text transform="translate(1795.0 1849.5) rotate(-90)" textLength="190.5" lengthAdjust="spacingAndGlyphs">ABY53444</text>
<text transform="translate(1851.6 1849.5) rotate(-90)" textLength="202.2" lengthAdjust="spacingAndGlyphs">WEC26237</text>
<text transform="translate(1908.2 1849.5) rotate(-90)" textLength="91.8" lengthAdjust="spacingAndGlyphs">HiVX</text>
<text transform="translate(1964.8 1849.5) rotate(-90)" textLength="206.7" lengthAdjust="spacingAndGlyphs">QQG34624</text>
<text transform="translate(2021.3 1849.5) rotate(-90)" textLength="206.7" lengthAdjust="spacingAndGlyphs">QQG34617</text>
<text transform="translate(2077.9 1849.5) rotate(-90)" textLength="191.4" lengthAdjust="spacingAndGlyphs">UEP18565</text>
</g>
<text class="s" x="340" y="104" font-size="69.3" textLength="88" lengthAdjust="spacingAndGlyphs">(B)</text>
<text class="s" x="53" y="2170.7" font-size="69.3" textLength="86" lengthAdjust="spacingAndGlyphs">(C)</text>
<text class="s" x="1669.5" y="214.3" font-size="46.5" textLength="470" lengthAdjust="spacingAndGlyphs">Pairwise identity (%)</text>
<g shape-rendering="crispEdges">
<rect x="1815.7" y="248.4" width="95.6" height="39.3" fill="#940000"/>
<rect x="1815.7" y="287.2" width="95.6" height="39.3" fill="#c80000"/>
<rect x="1815.7" y="326.1" width="95.6" height="39.3" fill="#ff0000"/>
<rect x="1815.7" y="364.9" width="95.6" height="39.3" fill="#ff1000"/>
<rect x="1815.7" y="403.7" width="95.6" height="39.3" fill="#ff4400"/>
<rect x="1815.7" y="442.5" width="95.6" height="39.3" fill="#ff7400"/>
<rect x="1815.7" y="481.4" width="95.6" height="39.3" fill="#ffa000"/>
<rect x="1815.7" y="520.2" width="95.6" height="39.3" fill="#ffc800"/>
<rect x="1815.7" y="559.0" width="95.6" height="39.3" fill="#ffff00"/>
<rect x="1815.7" y="597.8" width="95.6" height="39.3" fill="#b8ff00"/>
<rect x="1815.7" y="636.7" width="95.6" height="39.3" fill="#66ff55"/>
<rect x="1815.7" y="675.5" width="95.6" height="39.3" fill="#00ff78"/>
<rect x="1815.7" y="714.3" width="95.6" height="39.3" fill="#00ffb0"/>
<rect x="1815.7" y="753.2" width="95.6" height="39.3" fill="#00ffee"/>
<rect x="1815.7" y="792.0" width="95.6" height="39.3" fill="#00dcff"/>
<rect x="1815.7" y="830.8" width="95.6" height="39.3" fill="#00a8ff"/>
<rect x="1815.7" y="869.6" width="95.6" height="39.3" fill="#0080ff"/>
<rect x="1815.7" y="908.5" width="95.6" height="39.3" fill="#0050ff"/>
<rect x="1815.7" y="947.3" width="95.6" height="39.3" fill="#0028ff"/>
<rect x="1815.7" y="986.1" width="95.6" height="39.3" fill="#0000fc"/>
<rect x="1815.7" y="1024.9" width="95.6" height="39.3" fill="#0000c4"/>
<rect x="1815.7" y="1063.8" width="95.6" height="39.3" fill="#00008c"/>
</g>
<path d="M1816.7 287.2H1910.3M1816.7 326.1H1910.3M1816.7 364.9H1910.3M1816.7 403.7H1910.3M1816.7 442.5H1910.3M1816.7 481.4H1910.3M1816.7 520.2H1910.3M1816.7 559.0H1910.3M1816.7 597.8H1910.3M1816.7 636.7H1910.3M1816.7 675.5H1910.3M1816.7 714.3H1910.3M1816.7 753.2H1910.3M1816.7 792.0H1910.3M1816.7 830.8H1910.3M1816.7 869.6H1910.3M1816.7 908.5H1910.3M1816.7 947.3H1910.3M1816.7 986.1H1910.3M1816.7 1024.9H1910.3M1816.7 1063.8H1910.3" fill="none" stroke="#00000a" stroke-opacity=".8" stroke-width="5"/>
<rect x="1816.0" y="249.7" width="95.0" height="851.6" fill="none" stroke="#00000a" stroke-opacity=".9" stroke-width="2.6"/>
<g class="s" font-size="38">
<line x1="1912" y1="267.3" x2="1951" y2="267.3" stroke="#000" stroke-width="2.6"/>
<text x="1958" y="290.8" textLength="69.9" lengthAdjust="spacingAndGlyphs">100</text>
<line x1="1912" y1="345.1" x2="1951" y2="345.1" stroke="#000" stroke-width="2.6"/>
<text x="1958" y="368.6" textLength="46.6" lengthAdjust="spacingAndGlyphs">93</text>
<line x1="1912" y1="422.8" x2="1951" y2="422.8" stroke="#000" stroke-width="2.6"/>
<text x="1958" y="446.3" textLength="46.6" lengthAdjust="spacingAndGlyphs">86</text>
<line x1="1912" y1="500.6" x2="1951" y2="500.6" stroke="#000" stroke-width="2.6"/>
<text x="1958" y="524.0" textLength="46.6" lengthAdjust="spacingAndGlyphs">78</text>
<line x1="1912" y1="578.3" x2="1951" y2="578.3" stroke="#000" stroke-width="2.6"/>
<text x="1958" y="601.8" textLength="46.6" lengthAdjust="spacingAndGlyphs">71</text>
<line x1="1912" y1="656.0" x2="1951" y2="656.0" stroke="#000" stroke-width="2.6"/>
<text x="1958" y="679.5" textLength="46.6" lengthAdjust="spacingAndGlyphs">64</text>
<line x1="1912" y1="733.8" x2="1951" y2="733.8" stroke="#000" stroke-width="2.6"/>
<text x="1958" y="757.3" textLength="46.6" lengthAdjust="spacingAndGlyphs">57</text>
<line x1="1912" y1="811.5" x2="1951" y2="811.5" stroke="#000" stroke-width="2.6"/>
<text x="1958" y="835.0" textLength="46.6" lengthAdjust="spacingAndGlyphs">49</text>
<line x1="1912" y1="889.3" x2="1951" y2="889.3" stroke="#000" stroke-width="2.6"/>
<text x="1958" y="912.8" textLength="46.6" lengthAdjust="spacingAndGlyphs">42</text>
<line x1="1912" y1="967.0" x2="1951" y2="967.0" stroke="#000" stroke-width="2.6"/>
<text x="1958" y="990.5" textLength="46.6" lengthAdjust="spacingAndGlyphs">35</text>
<line x1="1912" y1="1044.8" x2="1951" y2="1044.8" stroke="#000" stroke-width="2.6"/>
<text x="1958" y="1068.3" textLength="46.6" lengthAdjust="spacingAndGlyphs">28</text>
</g>
<path d="M923.0 2112.2H1016.3M923.0 2175.0H1016.3M923.0 2110.9V2176.3M736.2 2143.6H923.0M828.0 2237.8H1016.3M923.0 2300.6H1016.3M923.0 2363.4H1016.3M923.0 2299.3V2364.7M828.0 2332.0H923.0M828.0 2236.5V2333.3M736.2 2284.9H828.0M736.2 2142.3V2286.2M177.3 2214.2H736.2M923.0 2426.2H1016.3M923.0 2489.0H1016.3M923.0 2424.9V2490.3M828.0 2457.6H923.0M828.0 2551.8H1016.3M828.0 2456.3V2553.1M736.2 2504.7H828.0M736.2 2614.6H1016.3M736.2 2503.4V2615.9M643.4 2559.6H736.2M923.0 2677.4H1016.3M923.0 2740.2H1016.3M923.0 2676.1V2741.5M828.0 2708.8H923.0M923.0 2803.0H1016.3M923.0 2865.8H1016.3M923.0 2801.7V2867.1M828.0 2834.4H923.0M828.0 2707.5V2835.7M643.4 2771.6H828.0M643.4 2558.3V2772.9M548.9 2665.6H643.4M923.0 2928.6H1016.3M923.0 2991.4H1016.3M923.0 2927.3V2992.7M548.9 2960.0H923.0M548.9 2664.3V2961.3M456.4 2812.8H548.9M548.9 3054.2H1016.3M643.4 3117.0H1016.3M736.2 3179.8H1016.3M828.0 3242.6H1016.3M923.0 3305.4H1016.3M923.0 3368.2H1016.3M923.0 3304.1V3369.5M828.0 3336.8H923.0M828.0 3241.3V3338.1M736.2 3289.7H828.0M736.2 3178.5V3291.0M643.4 3234.8H736.2M643.4 3115.7V3236.1M548.9 3175.9H643.4M548.9 3052.9V3177.2M456.4 3115.0H548.9M456.4 2811.5V3116.3M364.8 2961.1H456.4M828.0 3431.0H1016.3M923.0 3493.8H1016.3M923.0 3556.6H1016.3M923.0 3492.5V3557.9M828.0 3525.2H923.0M828.0 3429.7V3526.5M364.8 3478.1H828.0M364.8 2959.8V3479.4M272.3 3218.2H364.8M923.0 3619.4H1016.3M923.0 3682.2H1016.3M923.0 3618.1V3683.5M828.0 3650.8H923.0M923.0 3745.0H1016.3M923.0 3807.8H1016.3M923.0 3743.7V3809.1M828.0 3776.4H923.0M828.0 3649.5V3777.7M736.2 3713.6H828.0M736.2 3870.6H1016.3M736.2 3712.3V3871.9M272.3 3792.1H736.2M272.3 3216.9V3793.4M177.3 3502.7H272.3M177.3 2212.9V3504.0M85.3 2858.5H177.3M923.0 3933.4H1016.3M923.0 3996.2H1016.3M923.0 3932.1V3997.5M85.3 3964.8H923.0M85.3 2857.2V3966.1" fill="none" stroke="#000" stroke-width="2.6"/>
<g class="b">
<text x="968.4" y="2147.5">0.192</text>
<text x="968.4" y="2210.3">0.198</text>
<text x="828.4" y="2178.9">0.155</text>
<text x="920.9" y="2273.1">0.280</text>
<text x="968.4" y="2335.9">0.209</text>
<text x="968.4" y="2398.7">0.201</text>
<text x="874.3" y="2367.3">0.078</text>
<text x="780.9" y="2320.2">0.149</text>
<text x="455.6" y="2249.6">0.049</text>
<text x="968.4" y="2461.5">0.005</text>
<text x="968.4" y="2524.3">0.008</text>
<text x="874.3" y="2492.9">0.124</text>
<text x="920.9" y="2587.1">0.120</text>
<text x="780.9" y="2540.0">0.045</text>
<text x="875.0" y="2649.9">0.176</text>
<text x="688.6" y="2594.9">0.135</text>
<text x="968.4" y="2712.7">0.296</text>
<text x="968.4" y="2775.5">0.288</text>
<text x="874.3" y="2744.1">0.017</text>
<text x="968.4" y="2838.3">0.274</text>
<text x="968.4" y="2901.1">0.333</text>
<text x="874.3" y="2869.7">0.028</text>
<text x="734.5" y="2806.9">0.010</text>
<text x="594.9" y="2700.9">0.003</text>
<text x="968.4" y="2963.9">0.320</text>
<text x="968.4" y="3026.7">0.314</text>
<text x="734.8" y="2995.3">0.008</text>
<text x="501.4" y="2848.1">0.005</text>
<text x="781.4" y="3089.5">0.257</text>
<text x="828.6" y="3152.3">0.178</text>
<text x="875.0" y="3215.1">0.180</text>
<text x="920.9" y="3277.9">0.177</text>
<text x="968.4" y="3340.7">0.154</text>
<text x="968.4" y="3403.5">0.148</text>
<text x="874.3" y="3372.1">0.030</text>
<text x="780.9" y="3325.0">0.006</text>
<text x="688.6" y="3270.1">0.005</text>
<text x="594.9" y="3211.2">0.060</text>
<text x="501.4" y="3150.3">0.086</text>
<text x="409.4" y="2996.4">0.004</text>
<text x="920.9" y="3466.3">0.325</text>
<text x="968.4" y="3529.1">0.159</text>
<text x="968.4" y="3591.9">0.146</text>
<text x="874.3" y="3560.5">0.135</text>
<text x="595.2" y="3513.4">0.021</text>
<text x="317.4" y="3253.5">0.009</text>
<text x="968.4" y="3654.7">0.264</text>
<text x="968.4" y="3717.5">0.266</text>
<text x="874.3" y="3686.1">0.010</text>
<text x="968.4" y="3780.3">0.163</text>
<text x="968.4" y="3843.1">0.147</text>
<text x="874.3" y="3811.7">0.159</text>
<text x="780.9" y="3748.9">0.054</text>
<text x="875.0" y="3905.9">0.361</text>
<text x="503.1" y="3827.4">0.054</text>
<text x="223.6" y="3538.0">0.024</text>
<text x="130.1" y="2893.8">0.002</text>
<text x="968.4" y="3968.7">0.311</text>
<text x="968.4" y="4031.5">0.327</text>
<text x="502.9" y="4000.1">0.160</text>
</g><g class="n">
<text x="920.8" y="2123.6" textLength="62.1" lengthAdjust="spacingAndGlyphs">100</text>
<text x="920.8" y="2312.0" textLength="62.1" lengthAdjust="spacingAndGlyphs">100</text>
<text x="825.8" y="2264.9" textLength="62.1" lengthAdjust="spacingAndGlyphs">100</text>
<text x="734.0" y="2194.2" textLength="62.1" lengthAdjust="spacingAndGlyphs">100</text>
<text x="920.8" y="2437.6" textLength="62.1" lengthAdjust="spacingAndGlyphs">100</text>
<text x="825.8" y="2484.7" textLength="62.1" lengthAdjust="spacingAndGlyphs">100</text>
<text x="734.0" y="2539.6" textLength="62.1" lengthAdjust="spacingAndGlyphs">100</text>
<text x="914.5" y="2688.8" textLength="41.4" lengthAdjust="spacingAndGlyphs">77</text>
<text x="914.5" y="2814.4" textLength="41.4" lengthAdjust="spacingAndGlyphs">94</text>
<text x="819.5" y="2751.6" textLength="41.4" lengthAdjust="spacingAndGlyphs">56</text>
<text x="914.5" y="3316.8" textLength="41.4" lengthAdjust="spacingAndGlyphs">99</text>
<text x="819.5" y="3269.7" textLength="41.4" lengthAdjust="spacingAndGlyphs">54</text>
<text x="727.7" y="3214.8" textLength="41.4" lengthAdjust="spacingAndGlyphs">53</text>
<text x="641.2" y="3155.9" textLength="62.1" lengthAdjust="spacingAndGlyphs">100</text>
<text x="546.7" y="3095.0" textLength="62.1" lengthAdjust="spacingAndGlyphs">100</text>
<text x="920.8" y="3505.2" textLength="62.1" lengthAdjust="spacingAndGlyphs">100</text>
<text x="819.5" y="3458.1" textLength="41.4" lengthAdjust="spacingAndGlyphs">91</text>
<text x="356.3" y="3198.2" textLength="41.4" lengthAdjust="spacingAndGlyphs">66</text>
<text x="914.5" y="3630.8" textLength="41.4" lengthAdjust="spacingAndGlyphs">60</text>
<text x="920.8" y="3756.4" textLength="62.1" lengthAdjust="spacingAndGlyphs">100</text>
<text x="825.8" y="3693.6" textLength="62.1" lengthAdjust="spacingAndGlyphs">100</text>
<text x="734.0" y="3772.1" textLength="62.1" lengthAdjust="spacingAndGlyphs">100</text>
<text x="263.8" y="3482.7" textLength="41.4" lengthAdjust="spacingAndGlyphs">93</text>
<text x="920.8" y="3944.8" textLength="62.1" lengthAdjust="spacingAndGlyphs">100</text>
</g>
<rect x="1019.5" y="3591.5" width="339.5" height="53" fill="#ffff00"/>
<g class="t">
<text x="1033.6" y="2124.2" textLength="122.8" lengthAdjust="spacingAndGlyphs">Sutera</text>
<text x="1173.3" y="2124.2" textLength="114.4" lengthAdjust="spacingAndGlyphs">flower</text>
<text x="1311.6" y="2124.2" textLength="118.3" lengthAdjust="spacingAndGlyphs">mottle</text>
<text x="1450.6" y="2124.2" textLength="89.3" lengthAdjust="spacingAndGlyphs">virus</text>
<text x="1559.5" y="2124.2">/</text>
<text x="1585.1" y="2124.2" textLength="204.9" lengthAdjust="spacingAndGlyphs">UOF93375</text>
<text x="1033.6" y="2187.0" textLength="163.6" lengthAdjust="spacingAndGlyphs">Plantago</text>
<text x="1217.9" y="2187.0" textLength="144.1" lengthAdjust="spacingAndGlyphs">asiatica</text>
<text x="1381.5" y="2187.0" textLength="126.1" lengthAdjust="spacingAndGlyphs">mosaic</text>
<text x="1528.2" y="2187.0" textLength="89.3" lengthAdjust="spacingAndGlyphs">virus</text>
<text x="1637.1" y="2187.0">/</text>
<text x="1659.5" y="2187.0" textLength="200.4" lengthAdjust="spacingAndGlyphs">UCJ00968</text>
<text x="1033.6" y="2249.8" textLength="157.2" lengthAdjust="spacingAndGlyphs">Bamboo</text>
<text x="1211.4" y="2249.8" textLength="126.1" lengthAdjust="spacingAndGlyphs">mosaic</text>
<text x="1357.5" y="2249.8" textLength="88.6" lengthAdjust="spacingAndGlyphs">virus</text>
<text x="1467.4" y="2249.8">/</text>
<text x="1491.4" y="2249.8" textLength="197.2" lengthAdjust="spacingAndGlyphs">QIN54693</text>
<text x="1033.6" y="2312.6" textLength="108.7" lengthAdjust="spacingAndGlyphs">Turtle</text>
<text x="1164.9" y="2312.6" textLength="101.5" lengthAdjust="spacingAndGlyphs">grass</text>
<text x="1276.7" y="2312.6" textLength="90.5" lengthAdjust="spacingAndGlyphs">virus</text>
<text x="1388.0" y="2312.6">X</text>
<text x="1435.1" y="2312.6">/</text>
<text x="1455.8" y="2312.6" textLength="281.3" lengthAdjust="spacingAndGlyphs">YP_009552762</text>
<text x="1033.6" y="2375.4" textLength="128.0" lengthAdjust="spacingAndGlyphs">Foxtail</text>
<text x="1184.3" y="2375.4" textLength="126.1" lengthAdjust="spacingAndGlyphs">mosaic</text>
<text x="1331.0" y="2375.4" textLength="89.3" lengthAdjust="spacingAndGlyphs">virus</text>
<text x="1439.9" y="2375.4">/</text>
<text x="1464.2" y="2375.4" textLength="219.1" lengthAdjust="spacingAndGlyphs">ABW25048</text>
<text x="1033.6" y="2438.2" textLength="109.9" lengthAdjust="spacingAndGlyphs">White</text>
<text x="1164.9" y="2438.2" textLength="117.7" lengthAdjust="spacingAndGlyphs">clover</text>
<text x="1294.2" y="2438.2" textLength="126.1" lengthAdjust="spacingAndGlyphs">mosaic</text>
<text x="1440.9" y="2438.2" textLength="89.3" lengthAdjust="spacingAndGlyphs">virus</text>
<text x="1551.5" y="2438.2">/</text>
<text x="1580.0" y="2438.2" textLength="202.3" lengthAdjust="spacingAndGlyphs">QJX15749</text>
<text x="1033.6" y="2501.0" textLength="133.2" lengthAdjust="spacingAndGlyphs">Galium</text>
<text x="1192.0" y="2501.0" textLength="179.7" lengthAdjust="spacingAndGlyphs">odoratum</text>
<text x="1395.7" y="2501.0" textLength="199.1" lengthAdjust="spacingAndGlyphs">potexvirus</text>
<text x="1614.5" y="2501.0">/</text>
<text x="1640.1" y="2501.0" textLength="199.1" lengthAdjust="spacingAndGlyphs">QJZ28428</text>
<text x="1033.6" y="2563.8" textLength="153.9" lengthAdjust="spacingAndGlyphs">Xinjiang</text>
<text x="1213.4" y="2563.8" textLength="281.3" lengthAdjust="spacingAndGlyphs">alphaflexivirus</text>
<text x="1519.0" y="2563.8">2</text>
<text x="1553.4" y="2563.8">/</text>
<text x="1578.7" y="2563.8" textLength="205.6" lengthAdjust="spacingAndGlyphs">QYF50236</text>
<text x="1033.6" y="2626.6" textLength="142.9" lengthAdjust="spacingAndGlyphs">Daphne</text>
<text x="1199.1" y="2626.6" textLength="89.9" lengthAdjust="spacingAndGlyphs">virus</text>
<text x="1309.2" y="2626.6">X</text>
<text x="1351.0" y="2626.6">/</text>
<text x="1378.2" y="2626.6" textLength="193.9" lengthAdjust="spacingAndGlyphs">UZP17221</text>
<text x="1033.6" y="2689.4" textLength="194.0" lengthAdjust="spacingAndGlyphs">Euonymus</text>
<text x="1252.2" y="2689.4" textLength="121.6" lengthAdjust="spacingAndGlyphs">yellow</text>
<text x="1392.5" y="2689.4" textLength="115.1" lengthAdjust="spacingAndGlyphs">mottle</text>
<text x="1528.2" y="2689.4" textLength="194.6" lengthAdjust="spacingAndGlyphs">associated</text>
<text x="1733.8" y="2689.4" textLength="97.0" lengthAdjust="spacingAndGlyphs">virus</text>
<text x="1848.9" y="2689.4">/</text>
<text x="1872.8" y="2689.4" textLength="283.2" lengthAdjust="spacingAndGlyphs">YP_010087744</text>
<text x="1033.6" y="2752.2" textLength="217.3" lengthAdjust="spacingAndGlyphs">Phyllanthus</text>
<text x="1278.0" y="2752.2" textLength="200.4" lengthAdjust="spacingAndGlyphs">potexvirus</text>
<text x="1498.0" y="2752.2">1</text>
<text x="1532.1" y="2752.2">/</text>
<text x="1557.3" y="2752.2" textLength="215.3" lengthAdjust="spacingAndGlyphs">QQG34570</text>
<text x="1029.1" y="2815.0" textLength="79.5" lengthAdjust="spacingAndGlyphs">Yam</text>
<text x="1131.2" y="2815.0" textLength="89.9" lengthAdjust="spacingAndGlyphs">virus</text>
<text x="1242.6" y="2815.0">X</text>
<text x="1287.7" y="2815.0">/</text>
<text x="1309.1" y="2815.0" textLength="201.7" lengthAdjust="spacingAndGlyphs">AJD23371</text>
<text x="1033.6" y="2877.8" textLength="192.7" lengthAdjust="spacingAndGlyphs">Dioscorea</text>
<text x="1237.3" y="2877.8" textLength="197.1" lengthAdjust="spacingAndGlyphs">potexvirus</text>
<text x="1453.4" y="2877.8">1</text>
<text x="1488.4" y="2877.8">/</text>
<text x="1517.2" y="2877.8" textLength="216.6" lengthAdjust="spacingAndGlyphs">QQG34565</text>
<text x="1033.6" y="2940.6" textLength="159.0" lengthAdjust="spacingAndGlyphs">Cassava</text>
<text x="1205.6" y="2940.6" textLength="90.5" lengthAdjust="spacingAndGlyphs">virus</text>
<text x="1315.6" y="2940.6">X</text>
<text x="1360.7" y="2940.6">/</text>
<text x="1382.8" y="2940.6" textLength="283.2" lengthAdjust="spacingAndGlyphs">YP_009357226</text>
<text x="1033.6" y="3003.4" textLength="131.3" lengthAdjust="spacingAndGlyphs">Nerine</text>
<text x="1177.8" y="3003.4" textLength="89.3" lengthAdjust="spacingAndGlyphs">virus</text>
<text x="1289.1" y="3003.4">X</text>
<text x="1333.6" y="3003.4">/</text>
<text x="1357.5" y="3003.4" textLength="51.1" lengthAdjust="spacingAndGlyphs">YP</text>
<text x="1428.0" y="3003.4" textLength="133.2" lengthAdjust="spacingAndGlyphs">446992</text>
<text x="1033.6" y="3066.2" textLength="92.5" lengthAdjust="spacingAndGlyphs">Mint</text>
<text x="1139.0" y="3066.2" textLength="90.5" lengthAdjust="spacingAndGlyphs">virus</text>
<text x="1250.7" y="3066.2">X</text>
<text x="1294.8" y="3066.2">/</text>
<text x="1320.0" y="3066.2" textLength="213.3" lengthAdjust="spacingAndGlyphs">YP_224134</text>
<text x="1033.6" y="3129.0" textLength="121.6" lengthAdjust="spacingAndGlyphs">Phaius</text>
<text x="1177.8" y="3129.0" textLength="89.3" lengthAdjust="spacingAndGlyphs">virus</text>
<text x="1289.1" y="3129.0">X</text>
<text x="1331.6" y="3129.0">/</text>
<text x="1355.6" y="3129.0" textLength="281.3" lengthAdjust="spacingAndGlyphs">YP_001655010</text>
<text x="1033.6" y="3191.8" textLength="133.2" lengthAdjust="spacingAndGlyphs">Hainan</text>
<text x="1192.0" y="3191.8" textLength="170.0" lengthAdjust="spacingAndGlyphs">sediment</text>
<text x="1380.2" y="3191.8" textLength="279.4" lengthAdjust="spacingAndGlyphs">alphaflexivirus</text>
<text x="1680.7" y="3191.8">1</text>
<text x="1715.0" y="3191.8">/</text>
<text x="1743.5" y="3191.8" textLength="201.4" lengthAdjust="spacingAndGlyphs">QYF50231</text>
<text x="1033.6" y="3254.6" textLength="204.3" lengthAdjust="spacingAndGlyphs">Cardamom</text>
<text x="1269.6" y="3254.6" textLength="90.5" lengthAdjust="spacingAndGlyphs">virus</text>
<text x="1381.6" y="3254.6">X</text>
<text x="1425.4" y="3254.6">/</text>
<text x="1450.6" y="3254.6" textLength="202.4" lengthAdjust="spacingAndGlyphs">DAZ85793</text>
<text x="1033.6" y="3317.4" textLength="69.8" lengthAdjust="spacingAndGlyphs">Lily</text>
<text x="1124.8" y="3317.4" textLength="90.5" lengthAdjust="spacingAndGlyphs">virus</text>
<text x="1234.8" y="3317.4">X</text>
<text x="1278.0" y="3317.4">/</text>
<text x="1302.6" y="3317.4" textLength="225.7" lengthAdjust="spacingAndGlyphs">WLW42345</text>
<text x="1033.6" y="3380.2" textLength="133.2" lengthAdjust="spacingAndGlyphs">Beijing</text>
<text x="1187.5" y="3380.2" textLength="168.1" lengthAdjust="spacingAndGlyphs">sediment</text>
<text x="1373.7" y="3380.2" textLength="278.1" lengthAdjust="spacingAndGlyphs">alphaflexivirus</text>
<text x="1676.2" y="3380.2">/</text>
<text x="1703.4" y="3380.2" textLength="202.5" lengthAdjust="spacingAndGlyphs">QYF50226</text>
<text x="1033.6" y="3443.0" textLength="204.3" lengthAdjust="spacingAndGlyphs">Strawberry</text>
<text x="1270.3" y="3443.0" textLength="78.9" lengthAdjust="spacingAndGlyphs">mild</text>
<text x="1371.8" y="3443.0" textLength="119.6" lengthAdjust="spacingAndGlyphs">yellow</text>
<text x="1512.7" y="3443.0" textLength="83.4" lengthAdjust="spacingAndGlyphs">edge</text>
<text x="1611.0" y="3443.0" textLength="90.5" lengthAdjust="spacingAndGlyphs">virus</text>
<text x="1721.5" y="3443.0">/</text>
<text x="1746.8" y="3443.0" textLength="205.1" lengthAdjust="spacingAndGlyphs">UKS50963</text>
<text x="1033.6" y="3505.8" textLength="153.9" lengthAdjust="spacingAndGlyphs">Cnidium</text>
<text x="1216.6" y="3505.8" textLength="90.5" lengthAdjust="spacingAndGlyphs">virus</text>
<text x="1328.6" y="3505.8">X</text>
<text x="1370.4" y="3505.8">/</text>
<text x="1395.7" y="3505.8" textLength="225.0" lengthAdjust="spacingAndGlyphs">QVW10166</text>
<text x="1033.6" y="3568.6" textLength="116.4" lengthAdjust="spacingAndGlyphs">Ferula</text>
<text x="1174.6" y="3568.6" textLength="198.4" lengthAdjust="spacingAndGlyphs">potexvirus</text>
<text x="1390.7" y="3568.6">1</text>
<text x="1422.1" y="3568.6">/</text>
<text x="1452.6" y="3568.6" textLength="216.6" lengthAdjust="spacingAndGlyphs">QQG34575</text>
<text x="1033.6" y="3631.4" textLength="159.1" lengthAdjust="spacingAndGlyphs">Hibiscus</text>
<text x="1214.7" y="3631.4" textLength="89.3" lengthAdjust="spacingAndGlyphs">virus</text>
<text x="1322.1" y="3631.4">X</text>
<text x="1033.6" y="3694.2" textLength="144.1" lengthAdjust="spacingAndGlyphs">Sichuan</text>
<text x="1203.7" y="3694.2" textLength="278.1" lengthAdjust="spacingAndGlyphs">alphaflexivirus</text>
<text x="1506.7" y="3694.2">1</text>
<text x="1540.5" y="3694.2">/</text>
<text x="1567.7" y="3694.2" textLength="201.7" lengthAdjust="spacingAndGlyphs">QYF50142</text>
<text x="1029.1" y="3757.0" textLength="107.9" lengthAdjust="spacingAndGlyphs">Yucca</text>
<text x="1162.9" y="3757.0" textLength="278.7" lengthAdjust="spacingAndGlyphs">alphaflexivirus</text>
<text x="1465.0" y="3757.0">1</text>
<text x="1497.8" y="3757.0">/</text>
<text x="1525.0" y="3757.0" textLength="215.3" lengthAdjust="spacingAndGlyphs">QQG34620</text>
<text x="1029.1" y="3819.8" textLength="122.9" lengthAdjust="spacingAndGlyphs">Agave</text>
<text x="1163.6" y="3819.8" textLength="198.4" lengthAdjust="spacingAndGlyphs">potexvirus</text>
<text x="1382.6" y="3819.8">1</text>
<text x="1415.7" y="3819.8">/</text>
<text x="1442.9" y="3819.8" textLength="215.3" lengthAdjust="spacingAndGlyphs">QQG34613</text>
<text x="1033.6" y="3882.6" textLength="153.9" lengthAdjust="spacingAndGlyphs">Physalis</text>
<text x="1205.6" y="3882.6" textLength="90.5" lengthAdjust="spacingAndGlyphs">virus</text>
<text x="1316.9" y="3882.6">X</text>
<text x="1360.7" y="3882.6">/</text>
<text x="1386.0" y="3882.6" textLength="199.1" lengthAdjust="spacingAndGlyphs">UEP18564</text>
<text x="1033.6" y="3945.4" textLength="133.2" lengthAdjust="spacingAndGlyphs">Hainan</text>
<text x="1192.0" y="3945.4" textLength="268.3" lengthAdjust="spacingAndGlyphs">alphaflexi-like</text>
<text x="1486.2" y="3945.4" textLength="89.3" lengthAdjust="spacingAndGlyphs">virus</text>
<text x="1593.5" y="3945.4">/</text>
<text x="1622.0" y="3945.4" textLength="200.4" lengthAdjust="spacingAndGlyphs">QYF50145</text>
<text x="1033.6" y="4008.2" textLength="153.9" lengthAdjust="spacingAndGlyphs">Guangxi</text>
<text x="1213.4" y="4008.2" textLength="269.6" lengthAdjust="spacingAndGlyphs">alphaflexi-like</text>
<text x="1508.8" y="4008.2" textLength="89.3" lengthAdjust="spacingAndGlyphs">virus</text>
<text x="1617.4" y="4008.2">/</text>
<text x="1643.3" y="4008.2" textLength="202.4" lengthAdjust="spacingAndGlyphs">QYF50156</text>
</g>
</svg></body></html>
